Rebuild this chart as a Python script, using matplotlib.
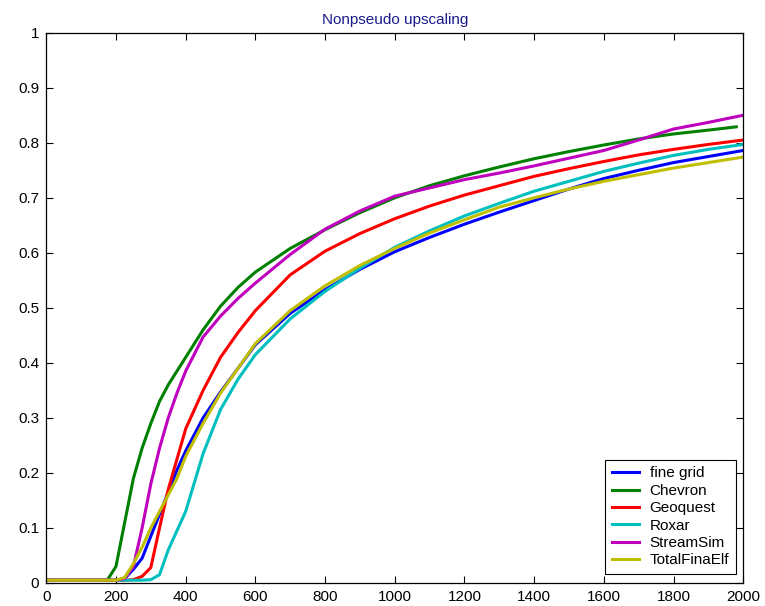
import matplotlib
matplotlib.use("Agg")
import numpy as np
import matplotlib.pyplot as plt

# --- data ---
x = [0, 150, 175, 200, 225, 250, 275, 300, 325, 350, 375, 400, 450, 500, 550,
     600, 700, 800, 900, 1000, 1100, 1200, 1300, 1400, 1500, 1600, 1700, 1800,
     1900, 2000]
x_chevron = [0, 150, 175, 200, 225, 250, 275, 300, 325, 350, 375, 400, 450, 500,
             550, 600, 700, 800, 900, 1000, 1100, 1200, 1300, 1400, 1500, 1600,
             1700, 1800, 1900, 1980]

fine_grid = [0.005, 0.005, 0.005, 0.005, 0.008, 0.025, 0.045, 0.085, 0.125, 0.165,
             0.205, 0.24, 0.30, 0.347, 0.39, 0.433, 0.49, 0.533, 0.57, 0.602,
             0.628, 0.652, 0.674, 0.695, 0.716, 0.735, 0.75, 0.764, 0.775, 0.786]
chevron = [0.005, 0.005, 0.005, 0.03, 0.11, 0.19, 0.245, 0.29, 0.33, 0.36,
           0.385, 0.41, 0.46, 0.503, 0.537, 0.565, 0.608, 0.642, 0.673, 0.70,
           0.722, 0.74, 0.756, 0.771, 0.784, 0.796, 0.807, 0.816, 0.823, 0.829]
geoquest = [0.005, 0.005, 0.005, 0.005, 0.005, 0.006, 0.012, 0.028, 0.10, 0.17,
            0.225, 0.28, 0.35, 0.41, 0.455, 0.495, 0.56, 0.603, 0.635, 0.662,
            0.685, 0.705, 0.722, 0.739, 0.753, 0.766, 0.778, 0.788, 0.797, 0.805]
roxar = [0.005, 0.005, 0.005, 0.005, 0.005, 0.005, 0.005, 0.006, 0.015, 0.06,
         0.095, 0.13, 0.235, 0.315, 0.37, 0.415, 0.48, 0.53, 0.572, 0.61,
         0.64, 0.667, 0.69, 0.712, 0.73, 0.748, 0.763, 0.777, 0.788, 0.797]
streamsim = [0.005, 0.005, 0.005, 0.005, 0.008, 0.03, 0.10, 0.18, 0.245, 0.30,
             0.345, 0.385, 0.447, 0.485, 0.517, 0.545, 0.597, 0.643, 0.676, 0.703,
             0.718, 0.733, 0.745, 0.758, 0.772, 0.786, 0.805, 0.825, 0.837, 0.85]
totalfinaelf = [0.005, 0.005, 0.005, 0.005, 0.01, 0.035, 0.065, 0.10, 0.13, 0.16,
                0.19, 0.23, 0.29, 0.345, 0.39, 0.435, 0.495, 0.54, 0.577, 0.608,
                0.636, 0.66, 0.683, 0.70, 0.716, 0.73, 0.742, 0.754, 0.764, 0.774]

series = [
    ("fine grid", x, fine_grid, (0, 0, 1)),
    ("Chevron", x_chevron, chevron, (0, 0.5, 0)),
    ("Geoquest", x, geoquest, (1, 0, 0)),
    ("Roxar", x, roxar, (0, 0.75, 0.75)),
    ("StreamSim", x, streamsim, (0.75, 0, 0.75)),
    ("TotalFinaElf", x, totalfinaelf, (0.75, 0.75, 0)),
]

plt.rcParams['font.family'] = ['Liberation Sans', 'DejaVu Sans']

fig = plt.figure(figsize=(7.65, 6.06), dpi=100)
ax = fig.add_axes([0.0605, 0.038, 0.911, 0.908])

for nom, xs, ys, col in series:
    ax.plot(xs, ys, color=col, lw=2.2, label=nom)

ax.set_xlim(0, 2000)
ax.set_ylim(0, 1)
ax.set_xticks(np.arange(0, 2001, 200))
ax.set_yticks(np.arange(0, 1.01, 0.1))
ax.set_yticklabels(['0', '0.1', '0.2', '0.3', '0.4', '0.5', '0.6', '0.7', '0.8', '0.9', '1'])
ax.tick_params(direction='in', length=5, width=0.8, top=True, right=True,
               labelsize=11, pad=5)
for sp in ax.spines.values():
    sp.set_linewidth(0.9)

ax.set_title("Nonpseudo upscaling", fontsize=11, color=(0.1, 0.1, 0.55), pad=6)

# legende en bas a droite, cadre noir carre
leg = ax.legend(loc='lower right', bbox_to_anchor=(0.99, 0.016), fontsize=11,
                fancybox=False, framealpha=1, edgecolor='black',
                handlelength=1.8, handletextpad=0.7, labelspacing=0.22,
                borderpad=0.45, borderaxespad=0)
leg.get_frame().set_linewidth(0.8)

fig.savefig("out.png", dpi=100)
